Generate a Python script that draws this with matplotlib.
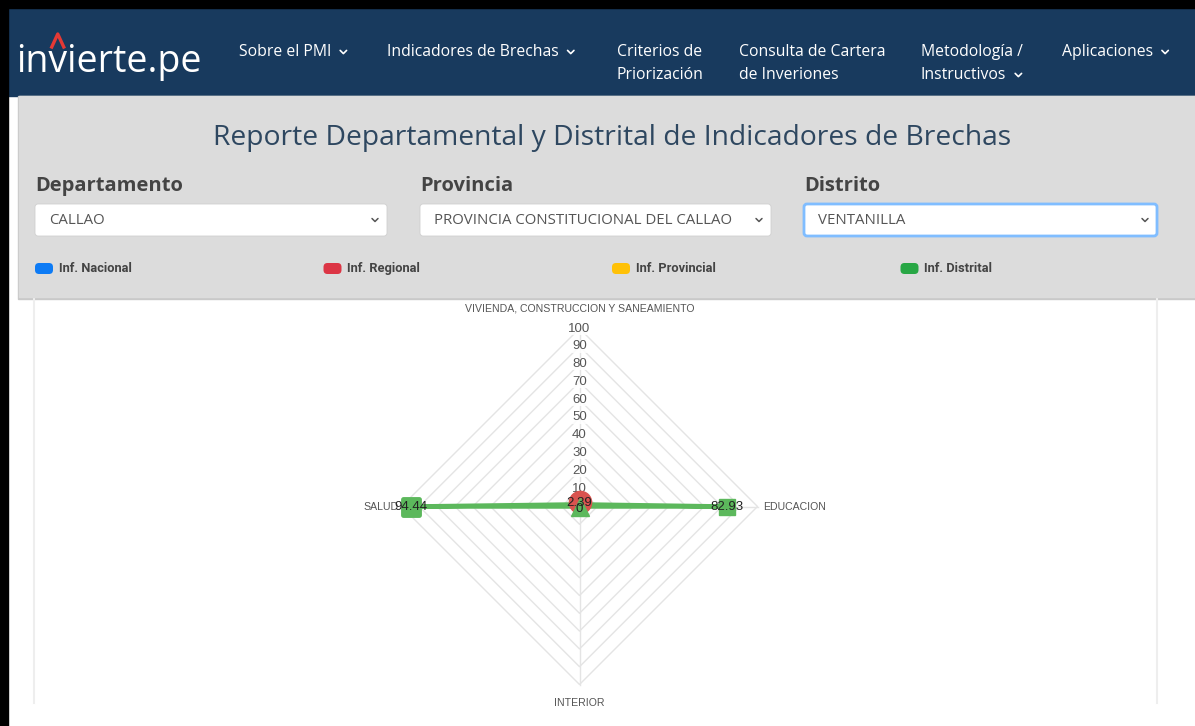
import numpy as np
import matplotlib
matplotlib.use("Agg")
import matplotlib.pyplot as plt
from matplotlib.patches import Rectangle, FancyBboxPatch
from matplotlib.markers import MarkerStyle

# radar data (chart.js order, clockwise from top)
axes_labels = ["VIVIENDA, CONSTRUCCION Y SANEAMIENTO", "EDUCACION", "INTERIOR", "SALUD"]
angles_deg = [90, 0, -90, 180]
regional = [2.39, 0, 0, 0]
distrital = [1.2, 82.93, 0, 94.44]
ticks = [10, 20, 30, 40, 50, 60, 70, 80, 90, 100]

legend_names = ["Inf. Nacional", "Inf. Regional", "Inf. Provincial", "Inf. Distrital"]
legend_colors = ["#0d7bf5", "#dc3545", "#ffc107", "#28a745"]

nav_items = ["Sobre el PMI", "Indicadores de Brechas", "Criterios de\nPriorización",
             "Consulta de Cartera\nde Inveriones", "Metodología /\nInstructivos", "Aplicaciones"]
nav_x = [239, 387, 617, 739, 921, 1062]
nav_chevron = [True, True, False, False, True, True]

filter_labels = ["Departamento", "Provincia", "Distrito"]
filter_values = ["CALLAO", "PROVINCIA CONSTITUCIONAL DEL CALLAO", "VENTANILLA"]

W, H = 1195, 726
fig = plt.figure(figsize=(W / 100, H / 100), dpi=100)
fig.patch.set_facecolor("white")

# page background axes in pixel coordinates
bg = fig.add_axes([0, 0, 1, 1])
bg.set_xlim(0, W)
bg.set_ylim(H, 0)
bg.axis("off")

navy = "#183a5e"
bg.add_patch(Rectangle((0, 0), W, 8, color="black", zorder=5))
bg.add_patch(Rectangle((0, 0), 8, H, color="black", zorder=5))
bg.add_patch(Rectangle((8, 8), W, 88, color=navy, zorder=1))


def chevron(x, y, s, color, lw=1.2):
    bg.plot([x - s, x, x + s], [y - s / 2, y + s / 2, y - s / 2], color=color, lw=lw,
            solid_capstyle="round", solid_joinstyle="round", zorder=6)


def right_edge(t):
    fig.canvas.draw()
    return t.get_window_extent().x1


logo_kw = dict(fontsize=27, family="Open Sans", va="center", ha="left", zorder=6)
# measure where the "v" sits so the red caret goes over it
probe = bg.text(16, 62, "in", color="none", **logo_kw)
in_end = right_edge(probe)
probe.remove()
probe = bg.text(16, 62, "inv", color="none", **logo_kw)
v_end = right_edge(probe)
probe.remove()
vc = (in_end + v_end) / 2
bg.text(16, 62, "invierte.pe", color="white", **logo_kw)
bg.plot([vc - 6, vc, vc + 6], [47, 34, 47], color="#e53935", lw=2.4, zorder=7)

# nav
for name, x, chev in zip(nav_items, nav_x, nav_chevron):
    lines = name.split("\n")
    for i, ln in enumerate(lines):
        t = bg.text(x, 52 + 23 * i, ln, color="white", fontsize=11.3, family="Open Sans",
                    va="center", ha="left", zorder=6)
    if chev:
        chevron(right_edge(t) + 12, 52 + 23 * (len(lines) - 1), 3.2, "white")

# gray filter panel
bg.add_patch(Rectangle((18, 96), W, 203, color="#c9c9c9", zorder=1))
bg.add_patch(Rectangle((19, 96), W, 201, color="#dcdcdc", zorder=2))
bg.text(612, 138, "Reporte Departamental y Distrital de Indicadores de Brechas",
        color="#2e4760", fontsize=20.3, family="Open Sans", ha="center", va="center", zorder=6)

box_x = [35, 420, 804]
box_w = [352, 351, 353]
for lab, val, x, w in zip(filter_labels, filter_values, box_x, box_w):
    bg.text(x, 186, lab, color="#444444", fontsize=14.5, family="Open Sans",
            fontweight="bold", ha="left", va="center", zorder=6)
    ec = "#80bdff" if lab == "Distrito" else "#d0d0d0"
    lw = 2 if lab == "Distrito" else 0.6
    bg.add_patch(FancyBboxPatch((x, 204), w, 32, boxstyle="round,pad=0,rounding_size=3",
                                fc="white", ec=ec, lw=lw, zorder=3))
    bg.text(x + 14, 220, val, color="#555555", fontsize=10.8, family="Open Sans",
            ha="left", va="center", zorder=6)
    chevron(x + w - 12, 220, 3, "#555555", lw=1.1)

for i, (name, c) in enumerate(zip(legend_names, legend_colors)):
    lx = 35 + i * 288.5
    bg.add_patch(FancyBboxPatch((lx, 263), 18, 11, boxstyle="round,pad=0,rounding_size=4",
                                fc=c, ec="none", zorder=4))
    bg.text(lx + 24, 268.5, name, color="#444444", fontsize=9.3, family="Roboto",
            fontweight="bold", ha="left", va="center", zorder=6)

# chart card edges
bg.plot([34, 34], [298, 703], color="#eeeeee", lw=1.5, zorder=1)
bg.plot([1157, 1157], [298, 703], color="#eeeeee", lw=1.5, zorder=1)

# radar axes
cx, cy, R = 579.5, 506.5, 178.0
half = 200.0
lim = half / R * 100
ax = fig.add_axes([(cx - half) / W, 1 - (cy + half) / H, 2 * half / W, 2 * half / H])
ax.set_xlim(-lim, lim)
ax.set_ylim(-lim, lim)
ax.axis("off")
ax.patch.set_alpha(0)

ang = np.radians(angles_deg)
ca, sa = np.cos(ang), np.sin(ang)
grid_c = "#e4e4e4"
for t in ticks:
    ax.plot(np.append(t * ca, t * ca[0]), np.append(t * sa, t * sa[0]), color=grid_c, lw=1, zorder=1)
for c_, s_ in zip(ca, sa):
    ax.plot([0, 100 * c_], [0, 100 * s_], color=grid_c, lw=1, zorder=1)
for t in ticks:
    ax.text(0, t, str(t), fontsize=9.5, family="Liberation Sans", color="#555555",
            ha="center", va="center", zorder=3,
            bbox=dict(fc="white", ec="none", pad=0.3, alpha=0.85))

ax.text(0, 100 * sa[0] + 11, axes_labels[0], fontsize=7.6, family="Liberation Sans",
        color="#555555", ha="center", va="center", clip_on=False)
ax.text(100 * ca[1] + 3.3, 0, axes_labels[1], fontsize=7.6, family="Liberation Sans",
        color="#555555", ha="left", va="center", clip_on=False)
ax.text(0, 100 * sa[2] - 10.5, axes_labels[2], fontsize=7.6, family="Liberation Sans",
        color="#555555", ha="center", va="center", clip_on=False)
ax.text(100 * ca[3] - 1.5, 0, axes_labels[3], fontsize=7.6, family="Liberation Sans",
        color="#555555", ha="right", va="center", clip_on=False)

green = "#5cb85c"
red = "#d9534f"
dx = np.array(distrital) * ca
dy = np.array(distrital) * sa
ax.plot(np.append(dx, dx[0]), np.append(dy, dy[0]), color=green, lw=3.2, zorder=4,
        solid_joinstyle="round")
rx = np.array(regional) * ca
ry = np.array(regional) * sa
ax.plot(np.append(rx, rx[0]), np.append(ry, ry[0]), color=red, lw=1.5, zorder=4)

# point markers (chart.js pointStyle per index)
ax.plot(rx[0], ry[0], marker="o", ms=16, color=red, mec=red, zorder=5)
ax.plot(dx[1], dy[1], marker="s", ms=11.5, color=green, mec=green, zorder=5)
ax.plot(dx[3], dy[3], marker=MarkerStyle("s", joinstyle="round"), ms=11.5, color=green,
        mec=green, mew=3.5, zorder=5)
ax.plot(dx[2], dy[2], marker="^", ms=13, color=green, mec=green, zorder=6)

# data labels
lab_kw = dict(fontsize=9.5, family="Liberation Sans", color="#222222", ha="center",
              va="center", zorder=7)
ax.text(dx[3], dy[3], f"{distrital[3]:.2f}", **lab_kw)
ax.text(dx[1], dy[1], f"{distrital[1]:.2f}", **lab_kw)
ax.text(rx[0], ry[0] - 0.5, f"{regional[0]:.2f}", **lab_kw)
ax.text(dx[2], dy[2] - 1.2, f"{distrital[2]:.0f}", **lab_kw)

fig.savefig("out.png", dpi=100)
